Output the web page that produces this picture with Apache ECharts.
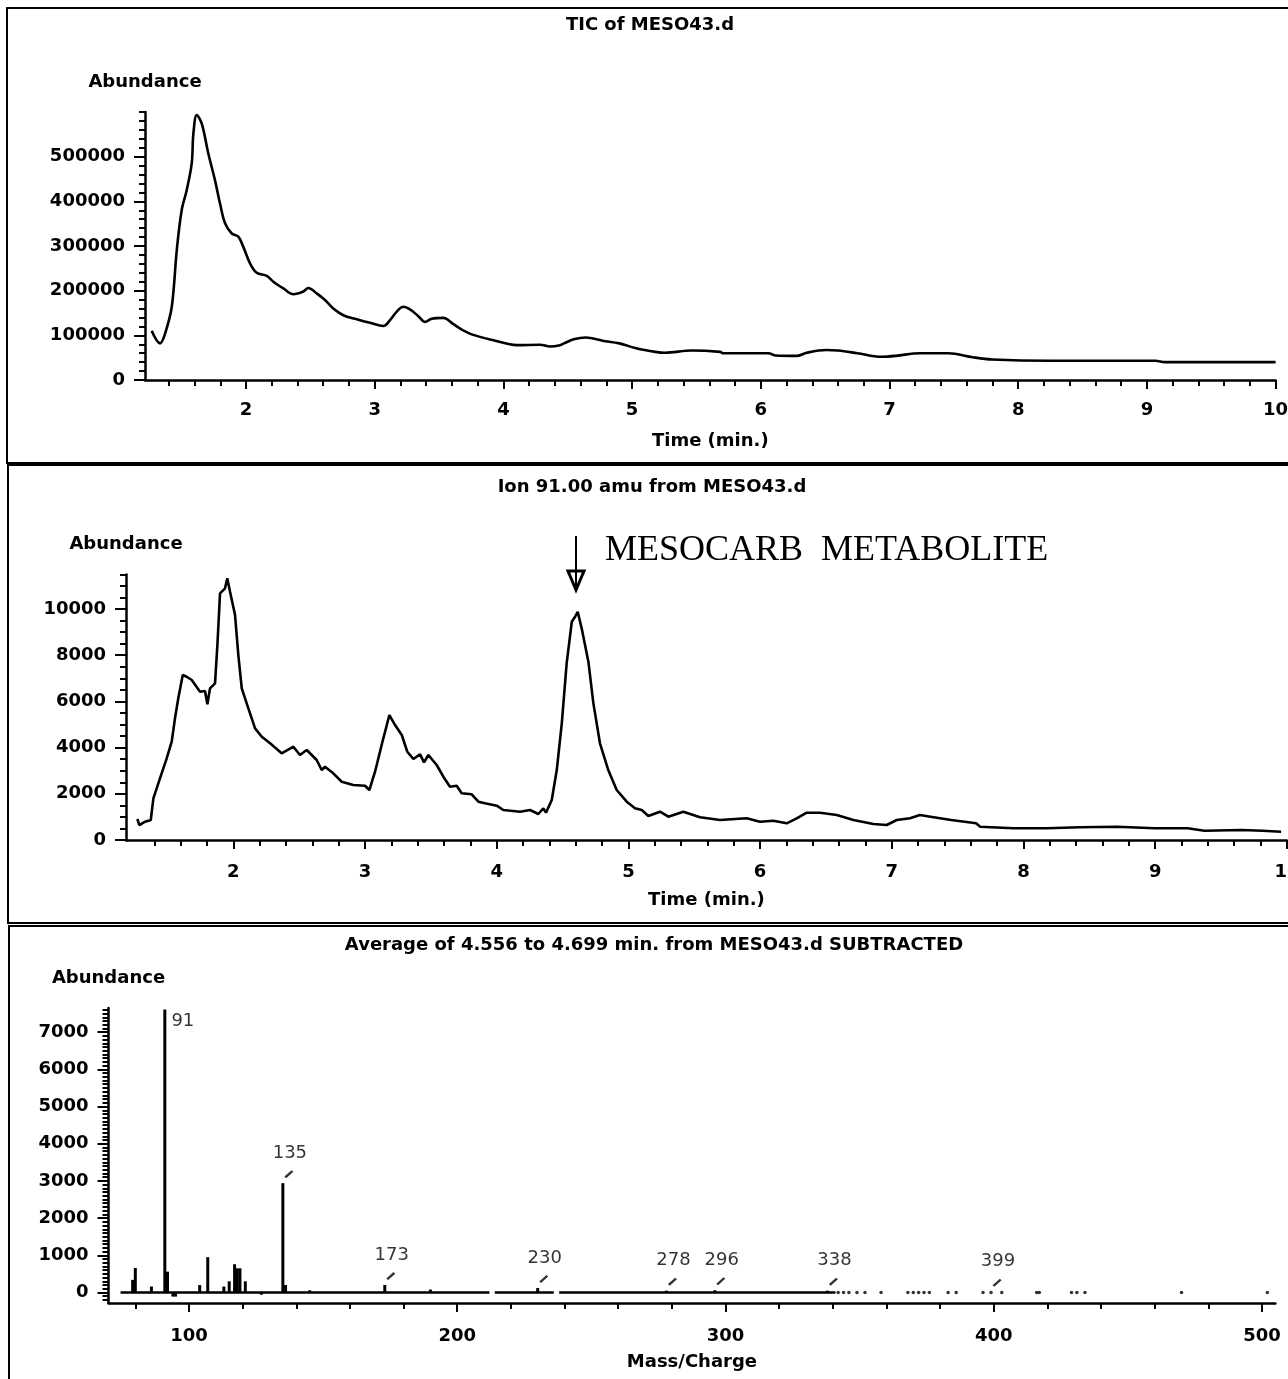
<!DOCTYPE html>
<html>
<head>
<meta charset="utf-8">
<script src="https://cdn.jsdelivr.net/npm/echarts@6/dist/echarts.min.js"></script>
<style>
  html, body { margin: 0; padding: 0; background: #fff; }
  #main { width: 1288px; height: 1379px; }
</style>
</head>
<body>
<div id="main"></div>
<script>
// ---- data ----
// TIC chromatogram (top)
const ticTime = [1.267,1.332,1.371,1.423,1.462,1.500,1.539,1.578,1.591,1.617,1.656,1.707,1.759,1.798,1.837,1.889,1.940,1.979,2.031,2.083,2.161,2.212,2.290,2.368,2.445,2.484,2.549,2.614,2.678,2.756,2.860,2.963,3.067,3.119,3.171,3.222,3.274,3.339,3.391,3.443,3.533,3.611,3.676,3.766,3.922,4.103,4.284,4.362,4.440,4.471,4.546,4.640,4.770,4.901,5.032,5.181,5.256,5.461,5.685,5.704,6.059,6.115,6.283,6.357,6.507,6.600,6.750,6.936,7.049,7.235,7.460,7.647,7.796,8.244,9.066,9.140,10.0];
const ticAbund = [110000,82000,104000,164000,291000,380000,425000,485000,552000,593000,574000,507000,447000,395000,351000,328000,321000,298000,261000,240000,233000,220000,205000,192000,198000,206000,194000,179000,160000,145000,136000,128000,121000,134000,153000,164000,158000,143000,130000,137000,139000,125000,113000,101000,89000,78000,79000,75000,78000,82000,91000,95000,88000,82000,71000,63000,61000,66000,63000,60000,60000,55000,54000,61000,67000,66000,60000,52000,54000,60000,60000,51000,46000,43000,43000,40000,40000];

// Ion 91 chromatogram (middle)
const ionTime = [1.271,1.286,1.330,1.373,1.393,1.443,1.494,1.532,1.557,1.582,
  1.616,1.646,1.684,1.747,1.785,1.803,1.823,1.861,1.879,1.899,
  1.937,1.954,1.975,2.013,2.038,2.064,2.114,2.165,2.216,2.279,
  2.367,2.456,2.506,2.557,2.633,2.671,2.696,2.759,2.823,2.911,
  3.000,3.033,3.076,3.139,3.185,3.228,3.279,3.321,3.367,3.418,
  3.448,3.481,3.544,3.595,3.645,3.696,3.734,3.810,3.861,3.911,
  4.000,4.050,4.177,4.253,4.316,4.354,4.374,4.418,4.456,4.494,
  4.531,4.570,4.595,4.615,4.645,4.696,4.734,4.784,4.847,4.911,
  4.987,5.050,5.101,5.151,5.240,5.303,5.417,5.544,5.696,5.898,
  5.999,6.100,6.202,6.278,6.354,6.455,6.582,6.708,6.860,6.961,
  7.037,7.138,7.214,7.294,7.451,7.640,7.671,7.924,8.176,8.428,
  8.711,8.996,9.247,9.373,9.657,9.814,9.956];
const ionAbund = [909,649,792,866,1805,2671,3537,4255,5268,6134,
  7143,7070,6926,6420,6450,5874,6567,6784,8442,10680,
  10897,11330,10750,9740,8009,6567,5701,4835,4472,4186,
  3753,4039,3680,3896,3463,3030,3173,2887,2524,2381,
  2351,2165,2957,4403,5411,4978,4545,3822,3506,3709,
  3363,3680,3247,2741,2307,2351,2022,1978,1658,1589,
  1485,1299,1225,1299,1126,1372,1182,1732,3030,5052,
  7649,9450,9667,9883,9165,7720,5917,4186,3030,2165,
  1658,1372,1299,1039,1225,1009,1225,983,866,939,
  792,836,723,939,1182,1182,1082,866,693,649,
  866,939,1082,1009,866,723,576,506,506,550,
  576,506,506,403,433,403,359];

// mass spectrum (bottom)
const stickMz    = [79, 80, 86, 91, 92, 94, 95, 104, 107, 113, 115, 117, 118, 119, 121, 127, 135, 136, 145, 173, 190, 230, 278, 296, 338];
const stickAbund = [340, 660, 160, 7610, 560, -110, -110, 200, 950, 160, 300, 760, 650, 650, 300, -60, 2940, 200, 60, 200, 80, 120, 50, 60, 50];
const peakLabelMz    = [91, 135, 173, 230, 278, 296, 338, 399];
const peakLabelAbund = [7610, 2940, 200, 120, 50, 60, 50, 20];
const baselineSegments = [[74.5, 212], [214, 236], [238, 341]];
const dotMz = [342,344,346,349,352,358,368,370,372,374,376,383,386,396,399,403,416,417,429,431,434,470,502];

// tick labels
const timeLabels = [2, 3, 4, 5, 6, 7, 8, 9, 10];
const ticYLabels = [0, 100000, 200000, 300000, 400000, 500000];
const ionYLabels = [0, 2000, 4000, 6000, 8000, 10000];
const msYLabels  = [0, 1000, 2000, 3000, 4000, 5000, 6000, 7000];
const mzLabels   = [100, 200, 300, 400, 500];

const FONT = 'DejaVu Sans';
const BLACK = '#000';
const txt = { fontFamily: FONT, fontSize: 18, fontWeight: 'bold', color: BLACK };

// minor tick positions
const timeMinor = [];
for (let k = 7; k <= 50; k++) { if (k % 5 !== 0) timeMinor.push(k / 5); }
const ticYMinor = [];
for (let v = 0; v <= 600000; v += 20000) ticYMinor.push(v);
const ionYMinor = [];
for (let v = 0; v <= 11500; v += 500) ionYMinor.push(v);
const msYMinor = [];
for (let v = -200; v <= 7600; v += 100) msYMinor.push(v);
const mzMinor = [];
for (let m = 80; m <= 500; m += 20) { if (m % 100 !== 0) mzMinor.push(m); }

const line2 = { color: BLACK, width: 2 };
const curve = { color: BLACK, width: 2.6 };

function xPair(gridIndex, min, max, labels, minor, name, margin, nameGap) {
    return [{
        type: 'value', gridIndex, min, max, position: 'bottom',
        axisLine: { show: true, onZero: false, lineStyle: { color: BLACK, width: 2.5 } },
        axisTick: { show: true, customValues: labels, length: 9, lineStyle: line2 },
        axisLabel: { customValues: labels, margin, formatter: v => String(v), ...txt },
        splitLine: { show: false },
        name, nameLocation: 'middle', nameGap, nameTextStyle: { ...txt }
    }, {
        type: 'value', gridIndex, min, max, position: 'bottom',
        axisLine: { show: false, onZero: false },
        axisTick: { show: true, customValues: minor, length: 6, lineStyle: line2 },
        axisLabel: { show: false },
        splitLine: { show: false }
    }];
}

function yPair(gridIndex, min, max, labels, minor) {
    return [{
        type: 'value', gridIndex, min, max, position: 'left',
        axisLine: { show: true, onZero: false, lineStyle: { color: BLACK, width: 2.5 } },
        axisTick: { show: true, customValues: labels, length: 11, lineStyle: line2 },
        axisLabel: { customValues: labels, margin: 20, formatter: v => String(v), ...txt },
        splitLine: { show: false },
        name: 'Abundance', nameLocation: 'end', nameGap: 21,
        nameTextStyle: { ...txt, align: 'center' }
    }, {
        type: 'value', gridIndex, min, max, position: 'left',
        axisLine: { show: false, onZero: false },
        axisTick: { show: true, customValues: minor, length: 6, lineStyle: line2 },
        axisLabel: { show: false },
        splitLine: { show: false }
    }];
}

const baselineData = [];
baselineSegments.forEach((s, i) => {
    if (i > 0) baselineData.push([s[0] - 1, '-']);
    baselineData.push([s[0], 0], [s[1], 0]);
});

const option = {
    animation: false,
    backgroundColor: '#fff',
    title: [
        { text: 'TIC of MESO43.d', left: 650, top: 16, textAlign: 'center', padding: 0, textStyle: { ...txt } },
        { text: 'Ion 91.00 amu from MESO43.d', left: 652, top: 478, textAlign: 'center', padding: 0, textStyle: { ...txt } },
        { text: 'Average of 4.556 to 4.699 min. from MESO43.d SUBTRACTED', left: 654, top: 936, textAlign: 'center', padding: 0, textStyle: { ...txt } }
    ],
    grid: [
        { left: 145, top: 112, width: 1130.6, height: 268, outerBoundsMode: 'none' },
        { left: 126, top: 574.4, width: 1160.9, height: 265.6, outerBoundsMode: 'none' },
        { left: 108.5, top: 1008, width: 1166.9, height: 294.9, outerBoundsMode: 'none' }
    ],
    xAxis: [
        ...xPair(0, 1.215, 10, timeLabels, timeMinor, 'Time (min.)', 21, 52),
        ...xPair(1, 1.185, 10, timeLabels, timeMinor, 'Time (min.)', 23, 51),
        ...xPair(2, 70, 505, mzLabels, mzMinor, 'Mass/Charge', 24, 50)
    ],
    yAxis: [
        ...yPair(0, 0, 600000, ticYLabels, ticYMinor),
        ...yPair(1, 0, 11500, ionYLabels, ionYMinor),
        ...yPair(2, -280, 7650, msYLabels, msYMinor)
    ],
    series: [
        {
            type: 'line', xAxisIndex: 0, yAxisIndex: 0, showSymbol: false, symbol: 'none',
            smooth: 0.35, lineStyle: curve, data: ticTime.map((t, i) => [t, ticAbund[i]])
        },
        {
            type: 'line', xAxisIndex: 2, yAxisIndex: 2, showSymbol: false, symbol: 'none',
            lineStyle: curve, data: ionTime.map((t, i) => [t, ionAbund[i]])
        },
        {
            type: 'line', xAxisIndex: 4, yAxisIndex: 4, showSymbol: false, symbol: 'none',
            lineStyle: { color: BLACK, width: 2.4 }, data: baselineData
        },
        {
            type: 'bar', xAxisIndex: 4, yAxisIndex: 4, barWidth: 3,
            itemStyle: { color: BLACK }, data: stickMz.map((m, i) => [m, stickAbund[i]])
        },
        {
            type: 'scatter', xAxisIndex: 4, yAxisIndex: 4, symbolSize: 3.5,
            itemStyle: { color: BLACK }, data: dotMz.map(m => [m, 0])
        },
        {
            // little slash marks above labelled peaks
            type: 'scatter', xAxisIndex: 4, yAxisIndex: 4,
            symbol: 'path://M0,8 L8,0 L10,2 L2,10 Z', symbolSize: [9, 8], symbolOffset: [6, -9],
            itemStyle: { color: BLACK },
            data: peakLabelMz.map((m, i) => [m, peakLabelAbund[i]]).filter(d => d[0] !== 91)
        },
        {
            type: 'scatter', xAxisIndex: 4, yAxisIndex: 4, symbolSize: 1,
            itemStyle: { color: 'rgba(0,0,0,0)' },
            label: {
                show: true, position: 'inside', offset: [7, -30],
                formatter: p => String(p.value[0]),
                fontFamily: FONT, fontSize: 18, color: BLACK
            },
            data: peakLabelMz.map((m, i) => {
                const item = { value: [m, peakLabelAbund[i]] };
                if (m === 91) item.label = { offset: [18, 12] };
                return item;
            })
        }
    ],
    graphic: [
        // panel frames
        { type: 'rect', shape: { x: 7, y: 8, width: 1300, height: 455 }, style: { fill: null, stroke: BLACK, lineWidth: 2 }, z: 10 },
        { type: 'rect', shape: { x: 8, y: 465, width: 1300, height: 458 }, style: { fill: null, stroke: BLACK, lineWidth: 2 }, z: 10 },
        { type: 'rect', shape: { x: 9, y: 926, width: 1300, height: 460 }, style: { fill: null, stroke: BLACK, lineWidth: 2 }, z: 10 },
        // arrow to the metabolite peak
        { type: 'polygon', shape: { points: [[568, 571], [584, 571], [576, 590]] }, style: { fill: '#fff', stroke: BLACK, lineWidth: 3 }, z: 10 },
        { type: 'line', shape: { x1: 576, y1: 536, x2: 576, y2: 589 }, style: { stroke: BLACK, lineWidth: 2 }, z: 11 },
        {
            type: 'text', x: 605, y: 551, z: 10,
            style: { text: 'MESOCARB  METABOLITE', font: '36px "Liberation Serif"', fill: BLACK, verticalAlign: 'middle' }
        }
    ]
};

const chart = echarts.init(document.getElementById('main'));
chart.setOption(option);
</script>
</body>
</html>
